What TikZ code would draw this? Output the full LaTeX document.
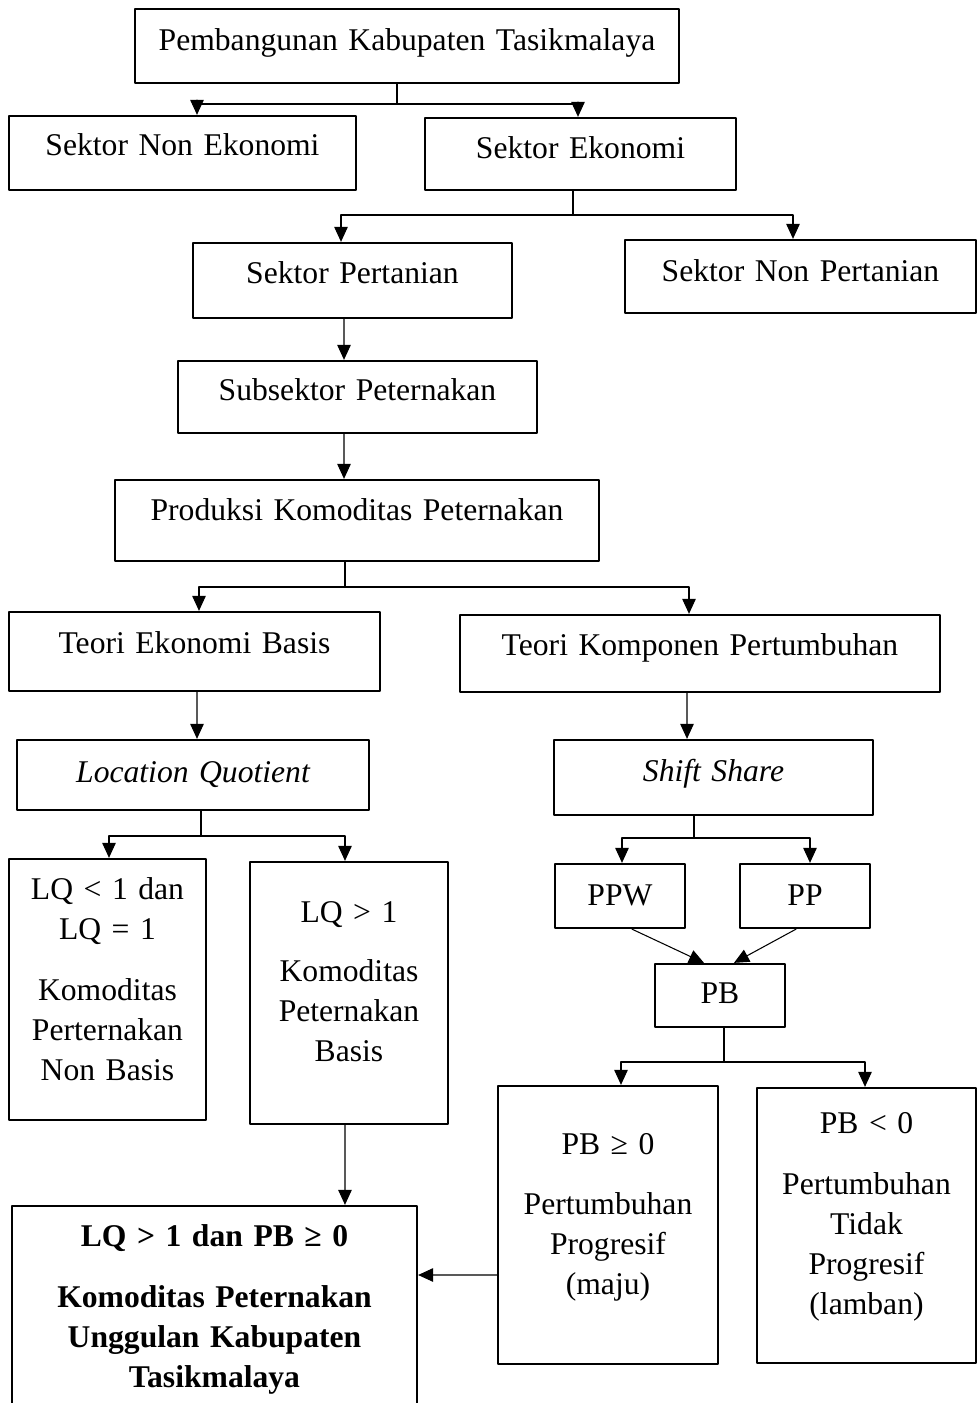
\documentclass[tikz,border=0pt]{standalone}
\usepackage{fontspec}
\setmainfont{Liberation Serif}
\usetikzlibrary{arrows.meta}
\begin{document}
\begin{tikzpicture}[x=0.02cm, y=-0.02cm, line cap=round, line join=round, >={Triangle[length=0.3cm,width=0.27cm]},
  box/.style={draw, line width=1.3pt, inner sep=0pt, align=center, anchor=base, font=\fontsize{18}{22.8}\selectfont},
  link/.style={line width=0.6pt}]
\useasboundingbox (0,0) rectangle (977,1403);
% boxes, placed at (centre x, first baseline)
\node[box, text width=10.88cm, text height=0.82cm, text depth=0.66cm] (top) at (407,50) {Pembangunan Kabupaten Tasikmalaya};
\node[box, text width=6.94cm, text height=0.78cm, text depth=0.70cm] (sne) at (182.5,155) {Sektor Non Ekonomi};
\node[box, text width=6.22cm, text height=0.80cm, text depth=0.64cm] (se) at (580.5,158) {Sektor Ekonomi};
\node[box, text width=6.38cm, text height=0.80cm, text depth=0.70cm] (sp) at (352.5,283) {Sektor Pertanian};
\node[box, text width=7.02cm, text height=0.82cm, text depth=0.64cm] (snp) at (800.5,281) {Sektor Non Pertanian};
\node[box, text width=7.18cm, text height=0.78cm, text depth=0.66cm] (sub) at (357.5,400) {Subsektor Peternakan};
\node[box, text width=9.68cm, text height=0.80cm, text depth=0.82cm] (prod) at (357,520) {Produksi Komoditas Peternakan};
\node[box, text width=7.42cm, text height=0.82cm, text depth=0.76cm] (teb) at (194.5,653) {Teori Ekonomi Basis};
\node[box, text width=9.60cm, text height=0.80cm, text depth=0.74cm] (tkp) at (700,655) {Teori Komponen Pertumbuhan};
\node[box, text width=7.04cm, text height=0.84cm, text depth=0.56cm] (lq) at (193,782) {\itshape Location Quotient};
\node[box, text width=6.38cm, text height=0.82cm, text depth=0.68cm] (ss) at (713.5,781) {\itshape Shift Share};
\node[box, text width=3.94cm, text height=0.80cm, text depth=4.42cm] (nonbasis) at (107.5,899)
  {LQ < 1 dan\\LQ = 1\\[0.42cm]Komoditas\\Perternakan\\Non Basis};
\node[box, text width=3.96cm, text height=1.20cm, text depth=4.04cm] (basis) at (349,922)
  {LQ > 1\\[0.38cm]Komoditas\\Peternakan\\Basis};
\node[box, text width=2.60cm, text height=0.82cm, text depth=0.46cm] (ppw) at (620,905) {PPW};
\node[box, text width=2.60cm, text height=0.82cm, text depth=0.46cm] (pp) at (805,905) {PP};
\node[box, text width=2.60cm, text height=0.78cm, text depth=0.48cm] (pb) at (720,1003) {PB};
\node[box, text width=4.40cm, text height=1.36cm, text depth=4.20cm] (maju) at (608,1154)
  {PB ≥ 0\\[0.4cm]Pertumbuhan\\Progresif\\(maju)};
\node[box, text width=4.38cm, text height=0.90cm, text depth=4.60cm] (lamban) at (866.5,1133)
  {PB < 0\\[0.42cm]Pertumbuhan\\Tidak\\Progresif\\(lamban)};
\node[box, text width=8.10cm, text height=0.80cm, text depth=3.48cm, font=\fontsize{18}{22.8}\selectfont\bfseries] (ung) at (214.5,1246)
  {LQ > 1 dan PB ≥ 0\\[0.42cm]Komoditas Peternakan\\Unggulan Kabupaten\\Tasikmalaya};
% forks
\coordinate (ja) at (397,104);
\draw[link] (top.south -| ja) -- (ja);
\draw[link,->] (ja) -| ([xshift=0.29cm]sne.north);
\draw[link,->] (ja) -| ([xshift=-0.05cm]se.north);
\coordinate (jb) at (573,215);
\draw[link] (se.south -| jb) -- (jb);
\draw[link,->] (jb) -| ([xshift=-0.23cm]sp.north);
\draw[link,->] (jb) -| ([xshift=-0.15cm]snp.north);
\draw[link,->] ([xshift=-0.17cm]sp.south) -- ([xshift=-0.27cm]sub.north);
\draw[link,->] ([xshift=-0.27cm]sub.south) -- ([xshift=-0.26cm]prod.north);
\coordinate (jc) at (345,587);
\draw[link] (prod.south -| jc) -- (jc);
\draw[link,->] (jc) -| ([xshift=0.09cm]teb.north);
\draw[link,->] (jc) -| ([xshift=-0.22cm]tkp.north);
\draw[link,->] ([xshift=0.05cm]teb.south) -- ([xshift=0.08cm]lq.north);
\draw[link,->] ([xshift=-0.26cm]tkp.south) -- ([xshift=-0.53cm]ss.north);
\coordinate (jd) at (201,836);
\draw[link] (lq.south -| jd) -- (jd);
\draw[link,->] (jd) -| ([xshift=0.03cm]nonbasis.north);
\draw[link,->] (jd) -| ([xshift=-0.08cm]basis.north);
\coordinate (je) at (694,838);
\draw[link] (ss.south -| je) -- (je);
\draw[link,->] (je) -| ([xshift=0.04cm]ppw.north);
\draw[link,->] (je) -| ([xshift=0.10cm]pp.north);
\draw[link,->] ([xshift=0.24cm]ppw.south) -- ([xshift=-0.32cm]pb.north);
\draw[link,->] ([xshift=-0.18cm]pp.south) -- ([xshift=0.28cm]pb.north);
\coordinate (jf) at (724,1062);
\draw[link] (pb.south -| jf) -- (jf);
\draw[link,->] (jf) -| ([xshift=0.26cm]maju.north);
\draw[link,->] (jf) -| ([xshift=-0.03cm]lamban.north);
\draw[link,->] ([xshift=-0.08cm]basis.south) -- ([xshift=2.61cm]ung.north);
\draw[link,->] ([yshift=-1cm]maju.west) -- ([yshift=0.76cm]ung.east);
\end{tikzpicture}
\end{document}
